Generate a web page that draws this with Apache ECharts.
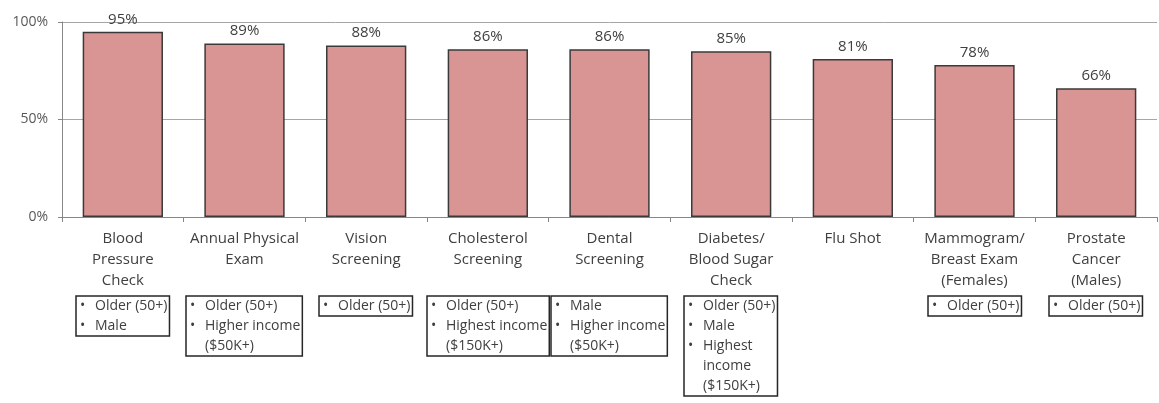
<!DOCTYPE html>
<html>
<head>
<meta charset="utf-8">
<script src="https://cdn.jsdelivr.net/npm/echarts@6/dist/echarts.min.js"></script>
<style>
  html, body { margin: 0; padding: 0; background: #ffffff; }
  #chart { width: 1159px; height: 403px; }
</style>
</head>
<body>
<div id="chart"></div>
<script>
// Screening categories (line breaks as shown under the axis)
const categories = [
  'Blood\nPressure\nCheck',
  'Annual Physical\nExam',
  'Vision\nScreening',
  'Cholesterol\nScreening',
  'Dental\nScreening',
  'Diabetes/\nBlood Sugar\nCheck',
  'Flu Shot',
  'Mammogram/\nBreast Exam\n(Females)',
  'Prostate\nCancer\n(Males)'
];

// Share who had each screening (%)
const values = [95, 89, 88, 86, 86, 85, 81, 78, 66];

// Y-axis range and step (%)
const yMin = 0;
const yMax = 100;
const yStep = 50;

// Groups more likely to get each screening; each item may wrap onto extra lines
const groupNotes = [
  [['Older (50+)'], ['Male']],
  [['Older (50+)'], ['Higher income', '($50K+)']],
  [['Older (50+)']],
  [['Older (50+)'], ['Highest income', '($150K+)']],
  [['Male'], ['Higher income', '($50K+)']],
  [['Older (50+)'], ['Male'], ['Highest', 'income', '($150K+)']],
  [],
  [['Older (50+)']],
  [['Older (50+)']]
];

const FONT = '"Open Sans", "Noto Sans", sans-serif';

const chart = echarts.init(document.getElementById('chart'), null, { renderer: 'canvas' });

chart.setOption({
  animation: false,
  grid: { left: 62, right: 2, top: 22, bottom: 186, containLabel: false },
  xAxis: {
    type: 'category',
    data: categories,
    axisLine: { lineStyle: { color: '#868686', width: 1 } },
    axisTick: { show: true, length: 5, lineStyle: { color: '#868686' } },
    axisLabel: {
      interval: 0,
      margin: 11,
      color: '#404040',
      fontFamily: FONT,
      fontSize: 15,
      lineHeight: 21,
      verticalAlign: 'top'
    }
  },
  yAxis: {
    type: 'value',
    min: yMin,
    max: yMax,
    interval: yStep,
    axisLine: { show: true, lineStyle: { color: '#868686' } },
    axisTick: { show: true, length: 4, lineStyle: { color: '#868686' } },
    axisLabel: {
      formatter: '{value}%',
      color: '#595959',
      fontFamily: FONT,
      fontSize: 14,
      margin: 14
    },
    splitLine: { lineStyle: { color: '#a6a6a6', width: 1 } }
  },
  series: [{
    type: 'bar',
    data: values,
    barCategoryGap: '34%',
    itemStyle: { color: '#D99594', borderColor: '#3a3a3a', borderWidth: 1.5 },
    label: {
      show: true,
      position: 'top',
      distance: 5,
      formatter: '{c}%',
      color: '#404040',
      fontFamily: FONT,
      fontSize: 15
    }
  }]
});

// Bulleted boxes listing groups, centred under each category, lines left-aligned
const boxTop = 296;
const bulletWidth = 15;
const padLeft = 4;
const padRight = 2;
const measureCtx = document.createElement('canvas').getContext('2d');
measureCtx.font = '14px ' + FONT;

const boxes = [];
groupNotes.forEach(function (items, i) {
  if (!items.length) return;
  const lines = [];
  let maxW = 0;
  items.forEach(function (item) {
    item.forEach(function (line, j) {
      lines.push((j === 0 ? '{b|•}' : '{s| }') + '{t|' + line + '}');
      maxW = Math.max(maxW, measureCtx.measureText(line).width);
    });
  });
  const boxW = padLeft + bulletWidth + maxW + padRight;
  const cx = chart.convertToPixel({ xAxisIndex: 0 }, i);
  boxes.push({
    type: 'text',
    x: Math.round(cx - boxW / 2),
    y: boxTop,
    style: {
      text: lines.join('\n'),
      align: 'left',
      verticalAlign: 'top',
      fill: '#404040',
      fontFamily: FONT,
      fontSize: 14,
      lineHeight: 20,
      borderColor: '#262626',
      borderWidth: 1.5,
      padding: [0, padRight, 0, padLeft],
      rich: {
        b: { width: bulletWidth, fontSize: 14, fontFamily: FONT, fill: '#404040', lineHeight: 20 },
        s: { width: bulletWidth, fontSize: 14, fontFamily: FONT, lineHeight: 20 },
        t: { fontSize: 14, fontFamily: FONT, fill: '#404040', lineHeight: 20 }
      }
    }
  });
});
chart.setOption({ graphic: boxes });
</script>
</body>
</html>
